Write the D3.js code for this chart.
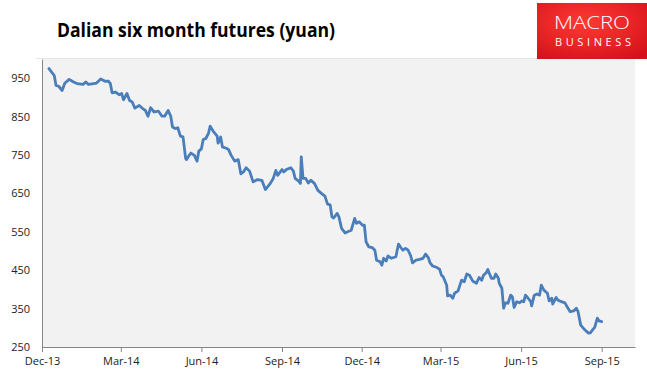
<!DOCTYPE html>
<html>
<head>
<meta charset="utf-8">
<script src="https://cdn.jsdelivr.net/npm/d3@7"></script>
<style>
  body { margin: 0; background: #fff; }
  text { font-family: "Open Sans", "DejaVu Sans", sans-serif; }
</style>
</head>
<body>
<div id="chart"></div>
<script>
// chart data
var dates = [
  "2013-12-09","2013-12-12","2013-12-15","2013-12-17","2013-12-20","2013-12-24","2013-12-27","2014-01-01","2014-01-06","2014-01-10",
  "2014-01-17","2014-01-20","2014-01-23","2014-01-29","2014-02-01","2014-02-06","2014-02-11","2014-02-15","2014-02-17","2014-02-19",
  "2014-02-23","2014-02-27","2014-03-02","2014-03-04","2014-03-08","2014-03-11","2014-03-14","2014-03-17","2014-03-22","2014-03-26",
  "2014-03-29","2014-04-01","2014-04-04","2014-04-08","2014-04-13","2014-04-17","2014-04-20","2014-04-24","2014-04-27","2014-04-29",
  "2014-05-02","2014-05-05","2014-05-08","2014-05-11","2014-05-14","2014-05-15","2014-05-18","2014-05-20","2014-05-24","2014-05-27",
  "2014-05-29","2014-06-01","2014-06-03","2014-06-06","2014-06-09","2014-06-11","2014-06-15","2014-06-19","2014-06-20","2014-06-23",
  "2014-06-25","2014-06-30","2014-07-02","2014-07-05","2014-07-09","2014-07-13","2014-07-16","2014-07-19","2014-07-22","2014-07-26",
  "2014-07-30","2014-08-04","2014-08-09","2014-08-13","2014-08-18","2014-08-22","2014-08-25","2014-08-27","2014-09-01","2014-09-03",
  "2014-09-06","2014-09-11","2014-09-14","2014-09-16","2014-09-20","2014-09-22","2014-09-23","2014-09-25","2014-09-28","2014-10-01",
  "2014-10-04","2014-10-08","2014-10-12","2014-10-16","2014-10-20","2014-10-23","2014-10-26","2014-10-28","2014-10-30","2014-11-03",
  "2014-11-05","2014-11-08","2014-11-12","2014-11-15","2014-11-19","2014-11-23","2014-11-25","2014-11-28","2014-12-02","2014-12-04",
  "2014-12-06","2014-12-09","2014-12-13","2014-12-16","2014-12-18","2014-12-22","2014-12-24","2014-12-26","2014-12-29","2014-12-31",
  "2015-01-04","2015-01-09","2015-01-12","2015-01-14","2015-01-17","2015-01-20","2015-01-23","2015-01-26","2015-01-28","2015-02-01",
  "2015-02-05","2015-02-09","2015-02-12","2015-02-15","2015-02-17","2015-02-20","2015-02-25","2015-02-28","2015-03-02","2015-03-04",
  "2015-03-08","2015-03-09","2015-03-12","2015-03-15","2015-03-17","2015-03-21","2015-03-25","2015-03-28","2015-03-31","2015-04-03",
  "2015-04-07","2015-04-11","2015-04-14","2015-04-17","2015-04-19","2015-04-22","2015-04-24","2015-04-26","2015-04-28","2015-05-01",
  "2015-05-03","2015-05-06","2015-05-07","2015-05-10","2015-05-12","2015-05-14","2015-05-17","2015-05-20","2015-05-22","2015-05-24",
  "2015-05-27","2015-05-30","2015-06-02","2015-06-04","2015-06-06","2015-06-09","2015-06-12","2015-06-13","2015-06-16","2015-06-19",
  "2015-06-22","2015-06-24","2015-06-27","2015-07-01","2015-07-03","2015-07-06","2015-07-07","2015-07-11","2015-07-13","2015-07-17",
  "2015-07-21","2015-07-24","2015-07-27","2015-07-31","2015-08-03","2015-08-05","2015-08-08","2015-08-11","2015-08-14","2015-08-17",
  "2015-08-19","2015-08-22","2015-08-24","2015-08-27","2015-08-29","2015-09-01"
];

var prices = [
  975,966,957,931,929,918,937,947,940,936,
  934,940,934,936,937,948,942,942,936,912,
  914,907,910,894,910,892,888,872,879,871,
  866,851,873,862,864,851,851,866,851,823,
  819,821,799,797,741,738,749,755,749,734,
  760,766,790,793,806,825,810,799,781,797,
  771,767,764,749,734,738,701,706,717,708,
  680,686,684,660,674,689,710,697,712,706,
  712,717,708,689,682,676,745,689,689,677,
  684,676,658,650,643,622,620,589,586,598,
  589,559,547,550,554,585,572,576,567,567,
  524,511,509,502,476,472,463,481,474,487,
  481,485,518,511,502,507,502,487,469,476,
  478,481,492,483,469,461,457,452,437,433,
  411,383,385,377,390,396,424,420,440,437,
  421,416,431,424,437,443,452,440,429,429,
  440,429,416,403,351,365,364,385,381,353,
  368,365,370,368,385,377,368,357,385,388,
  385,411,398,390,370,377,362,379,372,368,
  365,353,342,344,351,342,307,299,292,286,
  287,296,301,325,318,316
];

var xTickDates = ["2013-12-01","2014-03-01","2014-06-01","2014-09-01","2014-12-01","2015-03-01","2015-06-01","2015-09-01"];
var yTicks = [250, 350, 450, 550, 650, 750, 850, 950];
var xDomain = ["2013-12-01", "2015-10-09"];
var yDomain = [250, 1000];

var title = "Dalian six month futures (yuan)";

// layout
var width = 647, height = 385;
var plot = { left: 42, right: 635, top: 59, bottom: 347 };

var parseDate = d3.timeParse("%Y-%m-%d");
var data = dates.map(function(d, i) { return { date: parseDate(d), value: prices[i] }; });

var svg = d3.select("#chart").append("svg")
  .attr("width", width)
  .attr("height", height);

var x = d3.scaleTime()
  .domain(xDomain.map(parseDate))
  .range([plot.left, plot.right]);

var y = d3.scaleLinear()
  .domain(yDomain)
  .range([plot.bottom, plot.top]);

// plot background
svg.append("rect")
  .attr("x", plot.left)
  .attr("y", plot.top)
  .attr("width", plot.right - plot.left)
  .attr("height", plot.bottom - plot.top)
  .attr("fill", "#f2f2f2");

svg.append("line")
  .attr("x1", 36).attr("x2", 640)
  .attr("y1", plot.top - 0.5).attr("y2", plot.top - 0.5)
  .attr("stroke", "#e4e4e4");

// title
svg.append("text")
  .attr("x", 57)
  .attr("y", 37)
  .attr("font-size", 19)
  .attr("font-weight", "bold")
  .attr("fill", "#000")
  .attr("textLength", 278)
  .attr("lengthAdjust", "spacingAndGlyphs")
  .text(title);

// logo
var defs = svg.append("defs");
var grad = defs.append("radialGradient")
  .attr("id", "logoGrad")
  .attr("cx", "0.45").attr("cy", "0.35").attr("r", "0.75");
grad.append("stop").attr("offset", "0%").attr("stop-color", "#ff3a33");
grad.append("stop").attr("offset", "100%").attr("stop-color", "#d5121b");

var logo = svg.append("g");
logo.append("rect")
  .attr("x", 537).attr("y", 3)
  .attr("width", 110).attr("height", 56)
  .attr("fill", "url(#logoGrad)");
logo.append("text")
  .attr("x", 592).attr("y", 29)
  .attr("text-anchor", "middle")
  .attr("font-family", "Roboto, 'Liberation Sans', sans-serif")
  .attr("font-weight", 300)
  .attr("font-size", 19)
  .attr("fill", "#fff")
  .attr("textLength", 76)
  .attr("lengthAdjust", "spacingAndGlyphs")
  .text("MACRO");
logo.append("text")
  .attr("x", 593).attr("y", 46)
  .attr("text-anchor", "middle")
  .attr("font-family", "Roboto, 'Liberation Sans', sans-serif")
  .attr("font-size", 11)
  .attr("fill", "#fff")
  .attr("textLength", 76)
  .attr("lengthAdjust", "spacing")
  .text("BUSINESS");

// axes
var xAxis = d3.axisBottom(x)
  .tickValues(xTickDates.map(parseDate))
  .tickFormat(d3.timeFormat("%b-%y"))
  .tickSize(5)
  .tickSizeOuter(0);

var yAxis = d3.axisLeft(y)
  .tickValues(yTicks)
  .tickSize(0)
  .tickPadding(12);

var gx = svg.append("g")
  .attr("transform", "translate(0," + plot.bottom + ")")
  .call(xAxis);
gx.select(".domain").attr("stroke", "#868686");
gx.selectAll(".tick line").attr("stroke", "#868686");
gx.selectAll(".tick text")
  .attr("font-size", 11)
  .attr("font-family", "'Open Sans', sans-serif")
  .attr("fill", "#222")
  .attr("dy", "0.9em");

var gy = svg.append("g")
  .attr("transform", "translate(" + plot.left + ",0)")
  .call(yAxis);
gy.select(".domain").attr("stroke", "#868686");
gy.selectAll(".tick text")
  .attr("font-size", 11)
  .attr("font-family", "'Open Sans', sans-serif")
  .attr("fill", "#222");

// price line
var line = d3.line()
  .x(function(d) { return x(d.date); })
  .y(function(d) { return y(d.value); });

svg.append("path")
  .datum(data)
  .attr("d", line)
  .attr("fill", "none")
  .attr("stroke", "#4a7ebb")
  .attr("stroke-width", 2.8)
  .attr("stroke-linejoin", "round")
  .attr("stroke-linecap", "round");
</script>
</body>
</html>
